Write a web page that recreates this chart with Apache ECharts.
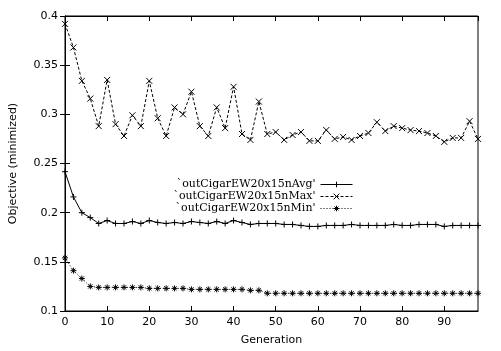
<!DOCTYPE html>
<html>
<head>
<meta charset="utf-8">
<script src="https://cdn.jsdelivr.net/npm/echarts@6/dist/echarts.min.js"></script>
<style>
  html, body { margin: 0; padding: 0; background: #fff; }
  #chart { width: 501px; height: 351px; }
</style>
</head>
<body>
<div id="chart"></div>
<script>
// generations 0,2,...,98
const generations = [0, 2, 4, 6, 8, 10, 12, 14, 16, 18, 20, 22, 24, 26, 28, 30, 32, 34, 36, 38,
  40, 42, 44, 46, 48, 50, 52, 54, 56, 58, 60, 62, 64, 66, 68, 70, 72, 74, 76, 78,
  80, 82, 84, 86, 88, 90, 92, 94, 96, 98];

const avgValues = [0.2417, 0.216, 0.200, 0.195, 0.189, 0.192, 0.189, 0.189, 0.191, 0.189,
  0.192, 0.190, 0.189, 0.190, 0.189, 0.191, 0.190, 0.189, 0.191, 0.189,
  0.192, 0.190, 0.188, 0.189, 0.189, 0.189, 0.188, 0.188, 0.187, 0.186,
  0.186, 0.187, 0.187, 0.187, 0.188, 0.187, 0.187, 0.187, 0.187, 0.188,
  0.187, 0.187, 0.188, 0.188, 0.188, 0.186, 0.187, 0.187, 0.187, 0.187];

const maxValues = [0.392, 0.368, 0.334, 0.316, 0.288, 0.335, 0.290, 0.278, 0.299, 0.288,
  0.334, 0.296, 0.278, 0.307, 0.300, 0.323, 0.288, 0.278, 0.307, 0.286,
  0.328, 0.280, 0.274, 0.313, 0.280, 0.282, 0.274, 0.279, 0.282, 0.273,
  0.273, 0.284, 0.275, 0.277, 0.274, 0.278, 0.281, 0.292, 0.283, 0.288,
  0.286, 0.284, 0.283, 0.281, 0.278, 0.272, 0.276, 0.276, 0.293, 0.275];

const minValues = [0.154, 0.141, 0.133, 0.125, 0.124, 0.124, 0.124, 0.124, 0.124, 0.124,
  0.123, 0.123, 0.123, 0.123, 0.123, 0.122, 0.122, 0.122, 0.122, 0.122,
  0.122, 0.122, 0.121, 0.121, 0.118, 0.118, 0.118, 0.118, 0.118, 0.118,
  0.118, 0.118, 0.118, 0.118, 0.118, 0.118, 0.118, 0.118, 0.118, 0.118,
  0.118, 0.118, 0.118, 0.118, 0.118, 0.118, 0.118, 0.118, 0.118, 0.118];

const seriesNames = ["`outCigarEW20x15nAvg'", "`outCigarEW20x15nMax'", "`outCigarEW20x15nMin'"];

const xTicks = { min: 0, max: 98, interval: 10 };
const yTicks = { min: 0.1, max: 0.4, interval: 0.05 };

// gnuplot style point markers
const plusSym = "path://M0,5L10,5M5,0L5,10";
const crossSym = "path://M1,1L9,9M1,9L9,1";
const starSym = "path://M0,5L10,5M5,0L5,10M1.5,1.5L8.5,8.5M1.5,8.5L8.5,1.5";

function pairs(vals) {
  return generations.map((g, i) => [g, vals[i]]);
}

const tickFont = { fontFamily: "DejaVu Sans", fontSize: 11, color: "#000" };

const chart = echarts.init(document.getElementById("chart"), null, { renderer: "canvas" });

function lineSeries(name, vals, sym, type) {
  return {
    name: name,
    type: "line",
    data: pairs(vals),
    symbol: sym,
    symbolSize: 6,
    showSymbol: true,
    animation: false,
    lineStyle: { color: "#000", width: 1, type: type },
    itemStyle: { color: "none", borderColor: "#000", borderWidth: 1 },
    emphasis: { disabled: true },
  };
}

chart.setOption({
  animation: false,
  backgroundColor: "#fff",
  grid: {
    left: 63, right: 23, top: 16, bottom: 38,
    show: true, borderColor: "#000", borderWidth: 1,
  },
  legend: {
    orient: "vertical",
    align: "right",
    right: 148,
    top: 179,
    padding: 0,
    itemWidth: 32,
    itemHeight: 7,
    itemGap: 1,
    selectedMode: false,
    itemStyle: { color: "none", borderColor: "#000", borderWidth: 1 },
    lineStyle: { width: 1, color: "#000" },
    textStyle: {
      fontFamily: "DejaVu Serif", fontSize: 11, color: "#000",
      width: 150, align: "right", lineHeight: 11, padding: 0,
    },
    data: seriesNames,
  },
  xAxis: [
    {
      type: "value",
      min: xTicks.min, max: xTicks.max, interval: xTicks.interval,
      name: "Generation",
      nameLocation: "middle",
      nameGap: 24,
      nameTextStyle: tickFont,
      axisLine: { show: true, lineStyle: { color: "#000" } },
      axisTick: { inside: true, length: 5, lineStyle: { color: "#000" } },
      axisLabel: Object.assign({ margin: 6, showMaxLabel: false }, tickFont),
      splitLine: { show: false },
    },
    {
      type: "value", position: "top",
      min: xTicks.min, max: xTicks.max, interval: xTicks.interval,
      axisLine: { show: true, lineStyle: { color: "#000" } },
      axisTick: { inside: true, length: 5, lineStyle: { color: "#000" } },
      axisLabel: { show: false },
      splitLine: { show: false },
    },
  ],
  yAxis: [
    {
      type: "value",
      min: yTicks.min, max: yTicks.max, interval: yTicks.interval,
      name: "Objective (minimized)",
      nameLocation: "middle",
      nameGap: 46,
      nameTextStyle: tickFont,
      axisLine: { show: true, lineStyle: { color: "#000" } },
      axisTick: { inside: true, length: 5, lineStyle: { color: "#000" } },
      axisLabel: Object.assign({ margin: 7 }, tickFont),
      splitLine: { show: false },
    },
    {
      type: "value", position: "right",
      min: yTicks.min, max: yTicks.max, interval: yTicks.interval,
      axisLine: { show: true, lineStyle: { color: "#000" } },
      axisTick: { inside: true, length: 5, lineStyle: { color: "#000" } },
      axisLabel: { show: false },
      splitLine: { show: false },
    },
  ],
  series: [
    lineSeries(seriesNames[0], avgValues, plusSym, "solid"),
    lineSeries(seriesNames[1], maxValues, crossSym, [3, 2]),
    lineSeries(seriesNames[2], minValues, starSym, [1, 2]),
  ],
});
</script>
</body>
</html>
